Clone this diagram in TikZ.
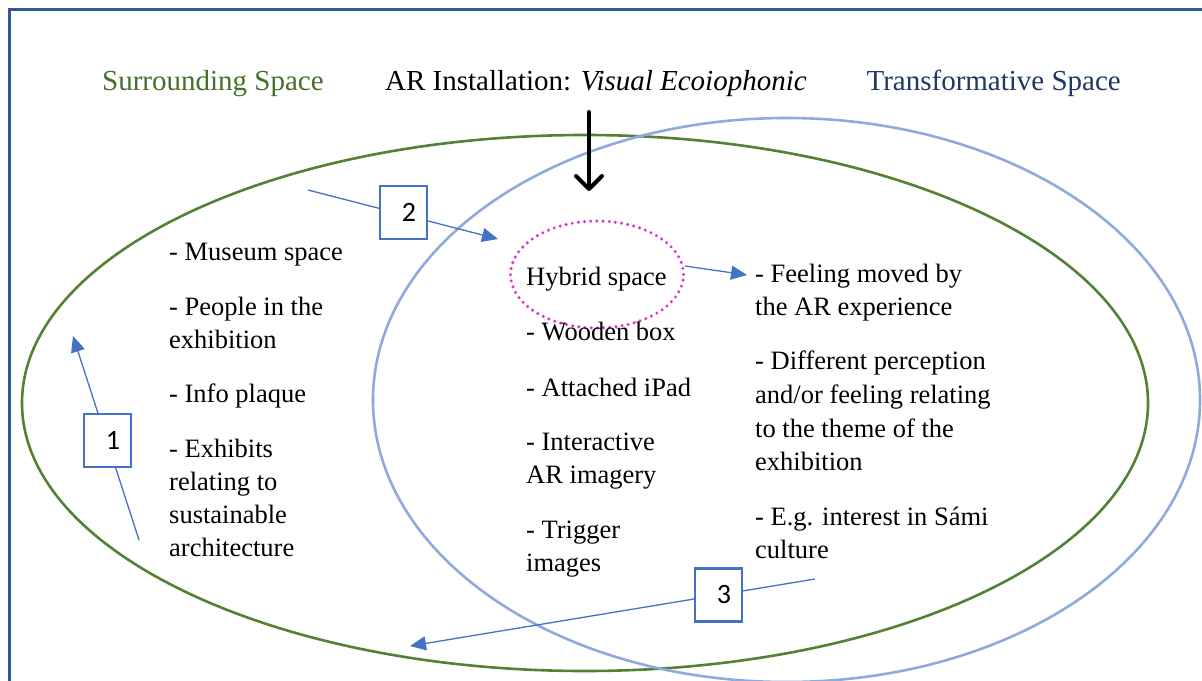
\documentclass[tikz,border=0pt]{standalone}
\usepackage{fontspec}
\setmainfont{Liberation Serif}
\newfontfamily\numfont{Carlito}
\usetikzlibrary{arrows.meta,shapes.geometric}
\definecolor{framec}{RGB}{52,88,155}
\definecolor{greenring}{RGB}{84,130,53}
\definecolor{greentxt}{RGB}{70,112,42}
\definecolor{bluering}{RGB}{143,170,220}
\definecolor{bluetxt}{RGB}{31,56,100}
\definecolor{arrowc}{RGB}{68,114,196}
\definecolor{dotc}{RGB}{222,55,200}
\begin{document}
\begin{tikzpicture}[x=1pt,y=-1pt,
  body/.style={anchor=base west, inner sep=0pt, font=\fontsize{26.5}{32}\selectfont},
  heading/.style={anchor=base west, inner sep=0pt, font=\fontsize{29}{35}\selectfont},
  numbox/.style={draw=arrowc, line width=2.8pt, fill=white, minimum height=53pt,
    text width=25pt, inner xsep=11pt, inner ysep=0pt, align=right,
    font=\numfont\fontsize{28}{30}\selectfont},
  conn/.style={draw=arrowc, line width=1.3pt},
  tipped/.style={-{Triangle[length=16pt,width=14pt]}}
]
\useasboundingbox (0,0) rectangle (1202,680);
\clip (0,0) rectangle (1202,680);
\fill[white] (0,0) rectangle (1202,680);

% outer frame (runs off the page on the right and bottom)
\draw[framec, line width=3pt] (9.5,800) -- (9.5,9) -- (1400,9);

% the two spaces
\draw[greenring, line width=2.6pt] (585,403) ellipse [x radius=563, y radius=268];
\draw[bluering, line width=2.6pt] (786.5,400) ellipse [x radius=413.5, y radius=282];

% headings
\node[heading, text=greentxt] (hsur) at (102,90) {Surrounding Space};
\node[heading] (har) at (385,90) {AR Installation: \textit{Visual Ecoiophonic}};
\node[heading, text=bluetxt, anchor=base east] (htra) at (1121,90) {Transformative Space};

% installation arrow
\coordinate (arTop) at (589,112);
\coordinate (arTip) at (589,191);
\draw[line width=4pt, line cap=round, -{Straight Barb[length=13pt,width=26pt,round]}] (arTop) -- (arTip);

% hybrid space: dotted ring with its label
\node[draw=dotc, line width=3.4pt, dash pattern=on 0pt off 6.2pt, line cap=round,
  ellipse, minimum width=173pt, minimum height=107pt, inner sep=0pt] (hyb) at (597,274.5) {};
\node[body] (hybtxt) at (526,285) {Hybrid space};

% surrounding space list
\node[body] (l1) at (169,260) {- Museum space};
\node[body] (l2) at (169,315) {- People in the};
\node[body] (l3) at (169,348) {exhibition};
\node[body] (l4) at (169,402) {- Info plaque};
\node[body] (l5) at (169,457) {- Exhibits};
\node[body] (l6) at (169,490) {relating to};
\node[body] (l7) at (169,523) {sustainable};
\node[body] (l8) at (169,556) {architecture};

% hybrid space list
\node[body] (m1) at (526,340) {- Wooden box};
\node[body] (m2) at (526,396) {- Attached iPad};
\node[body] (m3) at (526,450) {- Interactive};
\node[body] (m4) at (526,483) {AR imagery};
\node[body] (m5) at (526,538) {- Trigger};
\node[body] (m6) at (526,571) {images};

% transformative space list
\node[body] (r1) at (755,282) {- Feeling moved by};
\node[body] (r2) at (755,315) {the AR experience};
\node[body] (r3) at (755,369) {- Different perception};
\node[body] (r4) at (755,403) {and/or feeling relating};
\node[body] (r5) at (755,437) {to the theme of the};
\node[body] (r6) at (755,470) {exhibition};
\node[body] (r7) at (755,525) {- E.g. interest in S\'ami};
\node[body] (r8) at (755,558) {culture};

% numbered steps
\coordinate (s1) at (139,540);
\coordinate (e1) at (73,336);
\coordinate (s2) at (308,190);
\coordinate (e2) at (498,239);
\coordinate (s3) at (815,579);
\coordinate (e3) at (410,646);
\coordinate (hStart) at (685,266);
\coordinate (hTip) at (747,275);

\draw[conn, tipped] (s1) -- (e1);
\draw[conn, tipped] (s2) -- (e2);
\draw[conn, tipped] (s3) -- (e3);
\draw[conn, tipped] (hStart) -- (hTip);

\node[numbox] (b1) at (107.5,440.5) {1};
\node[numbox] (b2) at (403.5,212.5) {2};
\node[numbox] (b3) at (718.5,595) {3};
\end{tikzpicture}
\end{document}
